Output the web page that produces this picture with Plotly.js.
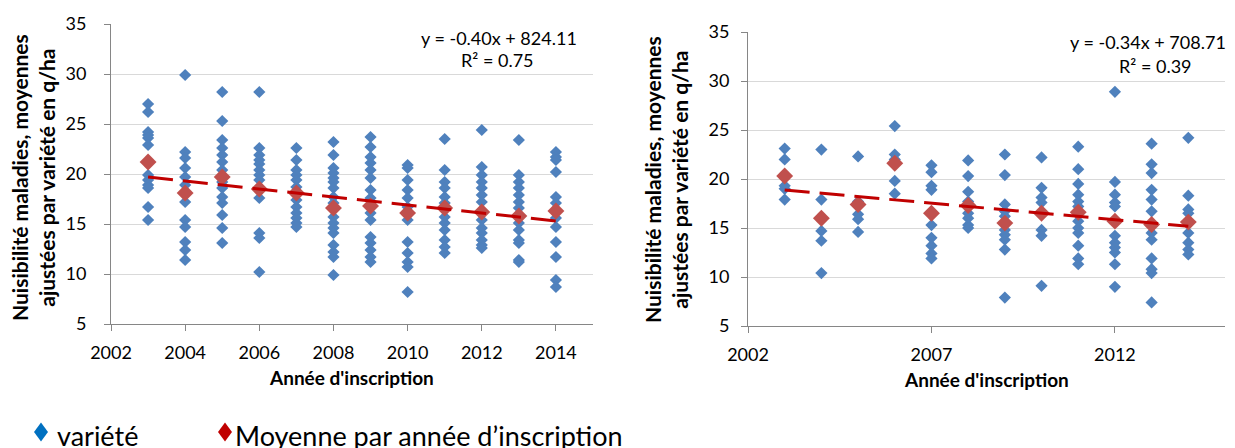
<!DOCTYPE html>
<html>
<head>
<meta charset="utf-8">
<script src="https://cdn.plot.ly/plotly-3.0.1.min.js"></script>
<style>html,body{margin:0;padding:0;background:#fff;}#chart{width:1235px;height:448px;}</style>
</head>
<body>
<div id="chart"></div>
<script>
// ---------- DATA ----------
const years = [2003, 2004, 2005, 2006, 2007, 2008, 2009, 2010, 2011, 2012, 2013, 2014];

// Left chart: values per variety, grouped by year of registration
const leftVarieties = [
  [27.0, 26.2, 24.2, 23.9, 23.6, 22.9, 19.9, 19.4, 18.9, 18.6, 16.7, 15.4],
  [29.9, 22.2, 21.6, 20.6, 19.7, 18.9, 17.2, 15.4, 14.7, 13.2, 12.4, 11.4],
  [28.2, 25.3, 23.4, 22.6, 21.9, 21.2, 20.4, 19.2, 18.6, 17.7, 17.1, 15.9, 14.6, 13.1],
  [28.2, 22.6, 21.9, 21.4, 21.0, 20.4, 19.9, 19.4, 17.6, 14.1, 13.6, 10.2],
  [22.6, 21.4, 20.4, 19.9, 19.4, 18.7, 17.4, 16.7, 16.1, 15.6, 15.1, 14.7],
  [23.2, 21.9, 20.6, 20.1, 19.6, 19.2, 18.6, 17.7, 17.1, 15.7, 15.1, 14.6, 14.1, 12.9, 12.2, 11.7, 9.9],
  [23.7, 22.7, 21.7, 21.1, 20.4, 19.6, 18.4, 17.6, 16.1, 15.4, 13.7, 13.1, 12.4, 11.7, 11.2],
  [20.9, 20.6, 19.4, 18.4, 17.6, 16.7, 15.4, 13.2, 12.1, 11.2, 10.7, 8.2],
  [23.5, 20.4, 19.2, 18.6, 17.7, 17.1, 15.7, 15.1, 14.4, 13.4, 12.7, 12.1],
  [24.4, 20.7, 19.9, 19.2, 18.6, 17.9, 17.2, 15.4, 14.6, 14.1, 13.4, 12.9, 12.6],
  [23.4, 19.9, 19.2, 18.6, 17.9, 17.2, 16.6, 15.1, 14.4, 13.4, 13.1, 11.4, 11.2],
  [22.2, 21.7, 21.4, 20.2, 17.7, 17.1, 15.6, 14.7, 13.2, 11.7, 9.4, 8.7]
];
const leftMeans = [21.2, 18.1, 19.7, 18.5, 18.1, 16.6, 16.8, 16.1, 16.6, 16.2, 15.8, 16.3];

// Right chart
const rightVarieties = [
  [23.1, 22.0, 19.3, 19.0, 17.9],
  [23.0, 17.9, 14.7, 13.7, 10.4],
  [22.3, 17.7, 16.4, 15.9, 14.6],
  [25.4, 22.5, 22.0, 19.8, 18.5],
  [21.4, 20.7, 19.3, 18.9, 15.3, 14.0, 13.2, 12.4, 11.9],
  [21.9, 20.3, 18.7, 17.7, 16.5, 16.0, 15.3, 15.0],
  [22.5, 20.4, 17.4, 16.7, 16.2, 14.8, 14.3, 13.8, 12.8, 7.9],
  [22.2, 19.1, 18.1, 17.6, 14.8, 14.2, 9.1],
  [23.3, 21.0, 19.5, 18.4, 17.7, 17.2, 15.7, 15.0, 14.5, 13.2, 11.9, 11.3],
  [28.9, 19.7, 18.4, 17.6, 17.2, 14.2, 13.5, 13.0, 12.5, 11.3, 9.0],
  [23.6, 21.5, 20.6, 18.9, 17.9, 16.7, 14.5, 13.8, 11.9, 10.8, 10.4, 7.4],
  [24.2, 18.3, 16.9, 16.5, 14.5, 13.5, 12.8, 12.3]
];
const rightMeans = [20.3, 16.0, 17.4, 21.6, 16.5, 17.3, 15.5, 16.5, 16.6, 15.7, 15.35, 15.6];

const leftTickVals = [2002, 2004, 2006, 2008, 2010, 2012, 2014];
const rightTickVals = [2002, 2007, 2012];
const leftEquation = ["y = -0.40x + 824.11", "R² = 0.75"];
const rightEquation = ["y = -0.34x + 708.71", "R² = 0.39"];
const yTitle = "Nuisibilité maladies, moyennes<br>ajustées par variété en q/ha";
const xTitle = "Année d'inscription";
const legendLabels = ["variété", "Moyenne par année d’inscription"];

// ---------- HELPERS ----------
function flatten(groups) {
  const xs = [], ys = [];
  groups.forEach((g, i) => g.forEach(v => { xs.push(years[i]); ys.push(v); }));
  return {xs, ys};
}
function linfit(xs, ys) {
  const n = xs.length;
  const mx = xs.reduce((a, b) => a + b, 0) / n;
  const my = ys.reduce((a, b) => a + b, 0) / n;
  let sxy = 0, sxx = 0;
  for (let i = 0; i < n; i++) { sxy += (xs[i] - mx) * (ys[i] - my); sxx += (xs[i] - mx) ** 2; }
  const b = sxy / sxx;
  const a = my - b * mx;
  return x => a + b * x;
}

const FONT = "Lato, 'Open Sans', sans-serif";
const BLUE = "#4f81bd", RED = "#c0504d", TREND = "#c00000";
const W = 1235, H = 448;
const px = x => x / W, py = y => 1 - y / H;

// legend swatch (diamond) path in paper coordinates, centred at pixel (cx, cy)
function diamondPath(cx, cy, hw, hh) {
  return "M" + px(cx - hw) + "," + py(cy) + " L" + px(cx) + "," + py(cy - hh) +
         " L" + px(cx + hw) + "," + py(cy) + " L" + px(cx) + "," + py(cy + hh) + " Z";
}

const L = flatten(leftVarieties), R = flatten(rightVarieties);
const fL = linfit(years, leftMeans), fR = linfit(years, rightMeans);
const ends = [years[0], years[years.length - 1]];

const traces = [
  {x: L.xs, y: L.ys, type: "scatter", mode: "markers", xaxis: "x", yaxis: "y",
   marker: {symbol: "diamond", size: 9.4, color: BLUE, line: {width: 0}}, showlegend: false},
  {x: years, y: leftMeans, type: "scatter", mode: "markers", xaxis: "x", yaxis: "y",
   marker: {symbol: "diamond", size: 13, color: RED, line: {width: 0}}, showlegend: false},
  {x: ends, y: ends.map(fL), type: "scatter", mode: "lines", xaxis: "x", yaxis: "y",
   line: {color: TREND, width: 3, dash: "25px,10px"}, showlegend: false},
  {x: R.xs, y: R.ys, type: "scatter", mode: "markers", xaxis: "x2", yaxis: "y2",
   marker: {symbol: "diamond", size: 9.4, color: BLUE, line: {width: 0}}, showlegend: false},
  {x: years, y: rightMeans, type: "scatter", mode: "markers", xaxis: "x2", yaxis: "y2",
   marker: {symbol: "diamond", size: 13, color: RED, line: {width: 0}}, showlegend: false},
  {x: ends, y: ends.map(fR), type: "scatter", mode: "lines", xaxis: "x2", yaxis: "y2",
   line: {color: TREND, width: 3, dash: "25px,10px"}, showlegend: false}
];

const axisCommon = {
  showline: true, linecolor: "#868686", linewidth: 1, zeroline: false,
  ticks: "outside", ticklen: 6, tickcolor: "#868686", tickwidth: 1,
  tickfont: {family: FONT, size: 18, color: "#000"}
};

const layout = {
  width: W, height: H,
  margin: {l: 0, r: 0, t: 0, b: 0},
  paper_bgcolor: "#fff", plot_bgcolor: "#fff",
  font: {family: FONT, color: "#000"},
  showlegend: false,
  xaxis: Object.assign({}, axisCommon, {domain: [px(111), px(593)], range: [2002, 2015], anchor: "y",
    tickvals: leftTickVals, showgrid: false, ticklabelstandoff: 6}),
  yaxis: Object.assign({}, axisCommon, {domain: [py(324), py(24)], range: [5, 35], dtick: 5, tick0: 5, anchor: "x",
    showgrid: true, gridcolor: "#d9d9d9", gridwidth: 1, ticklabelstandoff: 14}),
  xaxis2: Object.assign({}, axisCommon, {domain: [px(748), px(1225)], range: [2002, 2015], anchor: "y2",
    tickvals: rightTickVals, showgrid: false, ticklabelstandoff: 6}),
  yaxis2: Object.assign({}, axisCommon, {domain: [py(326), py(32)], range: [5, 35], dtick: 5, tick0: 5, anchor: "x2",
    showgrid: true, gridcolor: "#d9d9d9", gridwidth: 1, ticklabelstandoff: 8}),
  shapes: [
    {type: "path", xref: "paper", yref: "paper", path: diamondPath(41, 432, 7, 9.5),
     fillcolor: "#0070c0", line: {width: 0}},
    {type: "path", xref: "paper", yref: "paper", path: diamondPath(225, 432, 7, 9.5),
     fillcolor: "#c00000", line: {width: 0}}
  ],
  annotations: [
    {text: "<b>" + yTitle + "</b>", xref: "paper", yref: "paper", x: px(33), y: py(178), textangle: -90,
     showarrow: false, font: {family: FONT, size: 21}, align: "center", xanchor: "center", yanchor: "middle"},
    {text: "<b>" + yTitle + "</b>", xref: "paper", yref: "paper", x: px(666), y: py(180), textangle: -90,
     showarrow: false, font: {family: FONT, size: 21}, align: "center", xanchor: "center", yanchor: "middle"},
    {text: "<b>" + xTitle + "</b>", xref: "paper", yref: "paper", x: px(351), y: py(377),
     showarrow: false, font: {family: FONT, size: 19}, xanchor: "center", yanchor: "middle"},
    {text: "<b>" + xTitle + "</b>", xref: "paper", yref: "paper", x: px(987), y: py(379),
     showarrow: false, font: {family: FONT, size: 19}, xanchor: "center", yanchor: "middle"},
    {text: leftEquation[0], xref: "paper", yref: "paper", x: px(499), y: py(38),
     showarrow: false, font: {family: FONT, size: 18}, xanchor: "center", yanchor: "middle"},
    {text: leftEquation[1], xref: "paper", yref: "paper", x: px(497), y: py(60),
     showarrow: false, font: {family: FONT, size: 18}, xanchor: "center", yanchor: "middle"},
    {text: rightEquation[0], xref: "paper", yref: "paper", x: px(1148), y: py(42),
     showarrow: false, font: {family: FONT, size: 18}, xanchor: "center", yanchor: "middle"},
    {text: rightEquation[1], xref: "paper", yref: "paper", x: px(1155), y: py(66),
     showarrow: false, font: {family: FONT, size: 18}, xanchor: "center", yanchor: "middle"},
    {text: legendLabels[0], xref: "paper", yref: "paper", x: px(55), y: py(435),
     showarrow: false, font: {family: FONT, size: 27}, xanchor: "left", yanchor: "middle"},
    {text: legendLabels[1], xref: "paper", yref: "paper", x: px(233), y: py(435),
     showarrow: false, font: {family: FONT, size: 27}, xanchor: "left", yanchor: "middle"}
  ]
};

Plotly.newPlot("chart", traces, layout, {staticPlot: true, displayModeBar: false});
</script>
</body>
</html>
